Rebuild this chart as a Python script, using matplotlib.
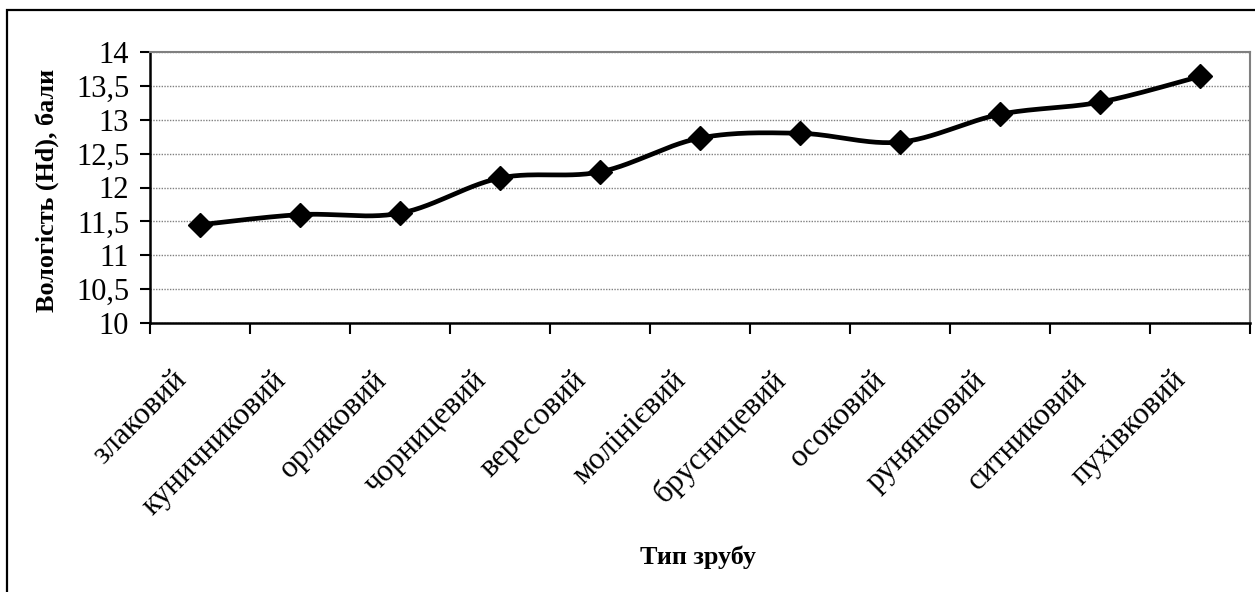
import numpy as np
from matplotlib import pyplot as plt
from matplotlib.patches import Rectangle
from matplotlib.ticker import FuncFormatter, MultipleLocator, FixedLocator
from matplotlib.transforms import ScaledTranslation

##  вологість за типами зрубу (Hd, бали)

CATEGORIES = ["злаковий", "куничниковий", "орляковий", "чорницевий",
              "вересовий", "молінієвий", "брусницевий", "осоковий",
              "рунянковий", "ситниковий", "пухівковий"]
VALUES = [11.45, 11.6, 11.62, 12.14, 12.23, 12.73, 12.8, 12.67, 13.08, 13.26, 13.64]

plt.rcParams['font.family'] = ['Liberation Serif', 'DejaVu Serif']


def smooth(x, y, n=30):
    # catmull-rom, like the excel "smoothed line"
    x = np.asarray(x, float)
    y = np.asarray(y, float)
    px = np.concatenate([[x[0]], x, [x[-1]]])
    py = np.concatenate([[y[0]], y, [y[-1]]])
    xs, ys = [], []
    for i in range(1, len(px) - 2):
        p0, p1, p2, p3 = (np.array([px[j], py[j]]) for j in range(i - 1, i + 3))
        c1 = p1 + (p2 - p0) / 6
        c2 = p2 - (p3 - p1) / 6
        t = np.linspace(0, 1, n)[:, None]
        pts = (1 - t) ** 3 * p1 + 3 * (1 - t) ** 2 * t * c1 + 3 * (1 - t) * t ** 2 * c2 + t ** 3 * p2
        xs.extend(pts[:, 0])
        ys.extend(pts[:, 1])
    return xs, ys


W, H = 1255, 592
figure = plt.figure(figsize=(W / 100, H / 100), dpi=100)
plot = figure.add_axes([150 / W, 1 - 323 / H, 1100 / W, 271 / H])

xpos = np.arange(len(CATEGORIES))
sx, sy = smooth(xpos, VALUES)
plot.plot(sx, sy, color='black', lw=3.4, solid_capstyle='round', zorder=3)
plot.plot(xpos, VALUES, ls='none', marker='D', ms=12, color='black', zorder=4)

plot.set_xlim(-0.5, len(CATEGORIES) - 0.5)
plot.set_ylim(10, 14)
plot.yaxis.set_major_locator(MultipleLocator(0.5))
plot.yaxis.set_major_formatter(FuncFormatter(lambda v, p: ('%g' % v).replace('.', ',')))
plot.grid(axis='y', color='#808080', ls=(0, (1, 1)), lw=1)
plot.set_axisbelow(True)

plot.set_xticks(xpos)
plot.set_xticklabels(CATEGORIES, rotation=45, ha='right', va='center', rotation_mode='anchor')
plot.xaxis.set_minor_locator(FixedLocator(np.arange(len(CATEGORIES) + 1) - 0.5))
plot.tick_params(axis='x', which='major', length=0, pad=38, labelsize=22.5)
plot.tick_params(axis='x', which='minor', length=8, width=1.5, direction='out')
plot.tick_params(axis='y', length=7, width=1.5, direction='out', labelsize=22, pad=8)

shift = ScaledTranslation(-0.18, 0, figure.dpi_scale_trans)
for lab in plot.get_xticklabels():
    lab.set_transform(lab.get_transform() + shift)

for side in ['left', 'bottom']:
    plot.spines[side].set_linewidth(1.8)
for side in ['top', 'right']:
    plot.spines[side].set_color('#808080')
    plot.spines[side].set_linewidth(1.5)

figure.text(47 / W, 1 - 190 / H, "Вологість (Hd), бали", rotation=90, ha='center', va='center',
            fontsize=18.8, fontweight='bold')
figure.text(698 / W, 1 - 557 / H, "Тип зрубу", ha='center', va='center',
            fontsize=18.8, fontweight='bold')

figure.add_artist(Rectangle((7 / W, -0.1), 1.2, 1.1 - 10 / H, transform=figure.transFigure,
                            fill=False, lw=1.6, color='black'))

figure.savefig("out.png", dpi=100)
plt.close(figure)
